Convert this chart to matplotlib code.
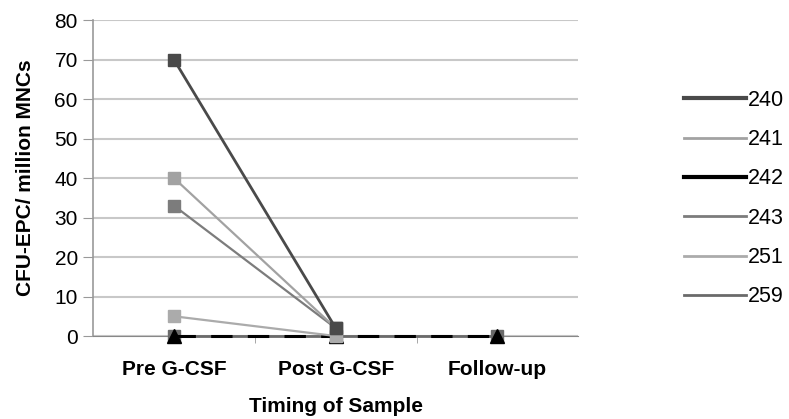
import numpy as np
import matplotlib.pyplot as plt
from matplotlib.lines import Line2D

plt.rcParams['font.family'] = ['Liberation Sans', 'DejaVu Sans']

categories = ['Pre G-CSF', 'Post G-CSF', 'Follow-up']
labels = ['240', '241', '242', '243', '251', '259']
s240 = [70, 2, np.nan]
s241 = [40, 2, np.nan]
s242 = [0, 0, 0]
s243 = [33, 2, np.nan]
s251 = [5, 0, np.nan]
s259 = [0, 0, 0]
yticks = [0, 10, 20, 30, 40, 50, 60, 70, 80]

colors = {'240': '#4a4a4a', '241': '#a2a2a2', '242': '#000000',
          '243': '#7c7c7c', '251': '#ababab', '259': '#6a6a6a'}

fig = plt.figure(figsize=(7.89, 4.19), dpi=100)
ax = fig.add_axes([0.118, 0.198, 0.615, 0.754])
x = np.arange(len(categories))

# zero-line series first, so the dashed black one sits on top
ax.plot(x, s259, color=colors['259'], lw=2, marker='s', ms=9, zorder=3, clip_on=False)
ax.plot(x, s242, color=colors['242'], lw=2.2, dashes=(7, 5), marker='^', ms=10, zorder=4, clip_on=False)
ax.plot(x, s251, color=colors['251'], lw=1.6, marker='s', ms=9, zorder=5, clip_on=False)
ax.plot(x, s243, color=colors['243'], lw=1.6, marker='s', ms=9, zorder=5, clip_on=False)
ax.plot(x, s241, color=colors['241'], lw=1.6, marker='s', ms=9, zorder=5, clip_on=False)
ax.plot(x, s240, color=colors['240'], lw=2, marker='s', ms=9, zorder=5, clip_on=False)

ax.set_xlim(-0.5, 2.5)
ax.set_ylim(0, 80)
ax.set_yticks(yticks)
ax.set_xticks(x)
ax.set_xticklabels(categories, fontsize=15, fontweight='bold')
ax.set_xticks([0.5, 1.5], minor=True)
ax.tick_params(axis='x', which='major', length=0, pad=17)
ax.tick_params(axis='x', which='minor', length=5, color='#999999')
ax.tick_params(axis='y', labelsize=15, length=7, color='#999999', pad=4)
ax.grid(axis='y', color='#c8c8c8', lw=1.5)
ax.set_axisbelow(True)
for s in ['top', 'right']:
    ax.spines[s].set_visible(False)
ax.spines['left'].set_color('#999999')
ax.spines['bottom'].set_color('#888888')
ax.spines['left'].set_linewidth(1.2)

ax.set_xlabel('Timing of Sample', fontsize=15, fontweight='bold', labelpad=13)
ax.set_ylabel('CFU-EPC/ million MNCs', fontsize=15, fontweight='bold', labelpad=14)

handles = [Line2D([], [], color=colors[l], lw=(3 if l in ('240', '242') else 2)) for l in labels]
ax.legend(handles, labels, loc='center left', bbox_to_anchor=(1.177, 0.435), frameon=False,
          fontsize=15.5, handlelength=2.9, handletextpad=0.1, labelspacing=0.85)

fig.savefig('out.png', dpi=100)
